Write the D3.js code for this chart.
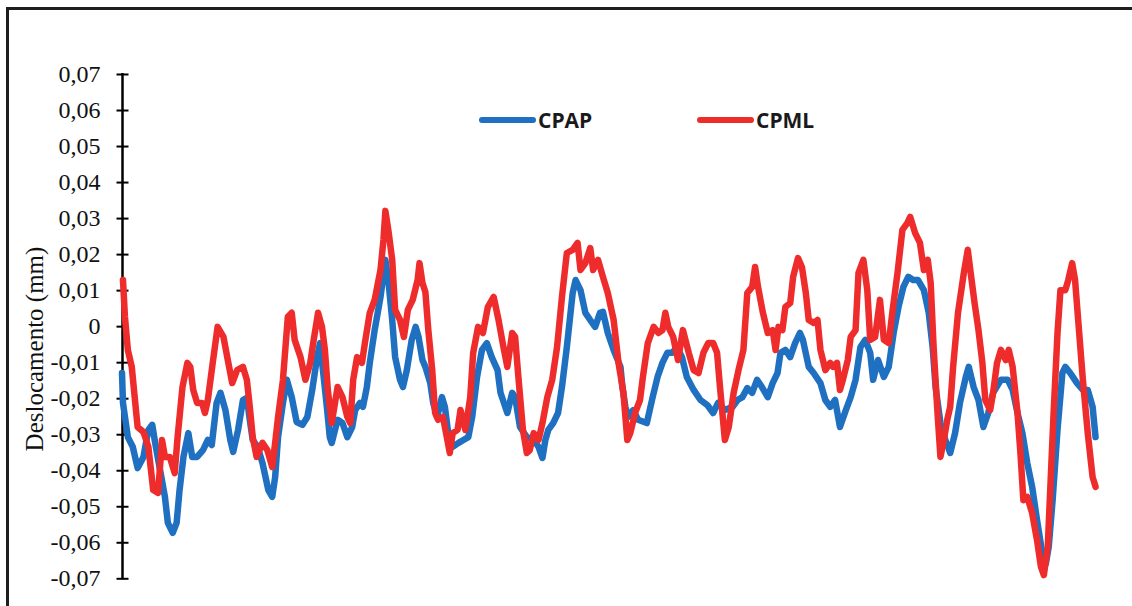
<!DOCTYPE html>
<html>
<head>
<meta charset="utf-8">
<script src="https://cdn.jsdelivr.net/npm/d3@7"></script>
<style>
  html, body { margin: 0; padding: 0; background: #fff; }
  svg { display: block; }
</style>
</head>
<body>
<svg id="chart" width="1132" height="606"></svg>
<script>
// Centre of pressure displacement over the trial (% of recording)
const seriesNames = ["CPAP", "CPML"];
const seriesColors = ["#1f70c1", "#ee2c2c"];
const yTicks = [-0.07, -0.06, -0.05, -0.04, -0.03, -0.02, -0.01, 0, 0.01, 0.02, 0.03, 0.04, 0.05, 0.06, 0.07];
const yTitle = "Deslocamento (mm)";

// CPAP (antero-posterior)
const cpapT = [0.0,0.1,0.6,1.1,1.6,2.2,2.7,3.1,3.4,3.9,4.4,4.7,5.2,5.6,5.9,6.3,6.8,7.2,7.7,8.3,8.8,9.2,9.7,10.1,10.6,11.1,11.4,11.9,12.4,12.8,13.1,13.4,13.9,14.4,15.0,15.4,15.7,16.0,16.5,16.9,17.4,17.9,18.5,19.0,19.5,20.0,20.3,20.6,21.0,21.3,21.5,22.1,22.6,23.1,23.6,23.9,24.4,24.7,25.1,25.4,25.9,26.5,27.0,27.3,27.7,28.0,28.5,28.8,29.2,29.7,30.1,30.4,30.8,31.1,31.6,31.9,32.3,32.8,33.1,33.4,33.9,34.5,35.0,35.5,35.9,36.4,36.9,37.4,37.9,38.5,38.8,39.5,40.0,40.3,40.8,41.5,42.2,42.7,43.1,43.4,43.7,44.2,44.7,45.1,45.6,46.2,46.5,47.0,47.5,48.0,48.5,49.0,49.3,49.8,50.4,51.1,51.3,51.6,51.9,52.4,52.9,53.8,54.4,54.9,55.4,55.9,56.4,56.9,57.4,57.9,58.6,59.3,60.0,60.6,61.1,61.8,62.6,63.1,63.6,64.1,64.6,65.1,65.6,66.2,66.7,67.2,67.5,68.0,68.5,69.0,69.5,69.8,70.4,70.9,71.6,72.1,72.6,73.1,73.6,74.2,74.7,75.2,75.7,76.2,76.7,77.0,77.5,78.1,78.6,79.1,79.6,80.1,80.6,81.1,81.6,82.2,82.7,83.1,83.4,83.9,84.4,84.9,85.4,85.9,86.5,86.8,87.3,87.8,88.3,88.8,89.3,90.1,90.8,91.3,91.8,92.3,92.8,93.3,93.8,94.4,94.7,95.0,95.4,95.9,96.4,96.7,97.2,97.9,98.5,99.0,99.5,99.8];
const cpapV = [-0.0130,-0.0213,-0.0308,-0.0335,-0.0394,-0.0363,-0.0288,-0.0274,-0.0324,-0.0399,-0.0474,-0.0546,-0.0574,-0.0546,-0.0455,-0.0363,-0.0297,-0.0363,-0.0363,-0.0344,-0.0316,-0.0330,-0.0213,-0.0185,-0.0233,-0.0316,-0.0349,-0.0288,-0.0205,-0.0199,-0.0260,-0.0316,-0.0335,-0.0380,-0.0455,-0.0474,-0.0419,-0.0308,-0.0213,-0.0149,-0.0197,-0.0266,-0.0274,-0.0252,-0.0177,-0.0086,-0.0047,-0.0122,-0.0224,-0.0308,-0.0324,-0.0260,-0.0269,-0.0308,-0.0280,-0.0233,-0.0213,-0.0224,-0.0169,-0.0102,-0.0011,0.0081,0.0184,0.0128,0.0017,-0.0086,-0.0149,-0.0169,-0.0122,-0.0038,-0.0002,-0.0030,-0.0094,-0.0113,-0.0158,-0.0213,-0.0252,-0.0197,-0.0224,-0.0288,-0.0335,-0.0324,-0.0316,-0.0308,-0.0252,-0.0141,-0.0066,-0.0047,-0.0086,-0.0122,-0.0185,-0.0241,-0.0185,-0.0197,-0.0280,-0.0308,-0.0316,-0.0335,-0.0366,-0.0316,-0.0288,-0.0269,-0.0241,-0.0169,-0.0058,0.0092,0.0128,0.0100,0.0037,0.0017,-0.0002,0.0037,0.0040,-0.0019,-0.0066,-0.0113,-0.0169,-0.0224,-0.0252,-0.0233,-0.0260,-0.0269,-0.0197,-0.0141,-0.0102,-0.0074,-0.0074,-0.0058,-0.0086,-0.0141,-0.0177,-0.0205,-0.0219,-0.0241,-0.0213,-0.0233,-0.0224,-0.0205,-0.0197,-0.0172,-0.0185,-0.0149,-0.0169,-0.0197,-0.0158,-0.0130,-0.0074,-0.0066,-0.0086,-0.0047,-0.0019,-0.0038,-0.0113,-0.0130,-0.0158,-0.0205,-0.0224,-0.0205,-0.0280,-0.0233,-0.0197,-0.0149,-0.0058,-0.0038,-0.0074,-0.0149,-0.0094,-0.0141,-0.0113,-0.0019,0.0053,0.0109,0.0137,0.0128,0.0128,0.0100,0.0037,-0.0058,-0.0169,-0.0269,-0.0316,-0.0352,-0.0297,-0.0213,-0.0141,-0.0113,-0.0169,-0.0205,-0.0280,-0.0241,-0.0185,-0.0149,-0.0149,-0.0177,-0.0241,-0.0297,-0.0380,-0.0446,-0.0538,-0.0641,-0.0660,-0.0613,-0.0483,-0.0288,-0.0130,-0.0113,-0.0130,-0.0158,-0.0177,-0.0177,-0.0224,-0.0308];

// CPML (medio-lateral)
const cpmlT = [0.1,0.3,0.6,1.0,1.3,1.6,2.2,2.7,3.2,3.7,4.1,4.4,4.9,5.4,5.7,6.2,6.7,7.0,7.3,7.7,8.2,8.5,8.8,9.3,9.8,10.4,10.9,11.3,11.8,12.4,12.8,13.1,13.4,13.8,14.4,14.9,15.4,15.7,16.0,16.5,17.0,17.4,17.7,18.3,18.8,19.3,19.6,20.1,20.5,20.8,21.1,21.5,22.1,22.6,23.1,23.4,23.7,24.1,24.6,24.9,25.4,25.9,26.5,26.8,27.0,27.3,27.7,28.0,28.5,28.9,29.3,29.8,30.3,30.5,30.8,31.1,31.4,31.8,32.1,32.4,32.9,33.3,33.6,33.9,34.4,34.7,35.2,35.7,36.0,36.5,37.0,37.5,38.1,38.6,39.1,39.5,40.0,40.3,40.6,41.1,41.5,41.8,42.2,42.7,43.1,43.6,44.1,44.6,45.1,45.6,46.2,46.7,47.0,47.5,48.0,48.3,48.8,49.3,49.8,50.4,50.9,51.4,51.8,52.1,52.6,53.1,53.4,53.9,54.5,55.0,55.4,55.7,56.0,56.5,57.0,57.5,58.1,58.6,59.1,59.6,60.1,60.6,61.0,61.3,61.8,62.2,62.7,63.2,63.7,64.1,64.6,64.9,65.2,65.7,66.2,66.7,67.0,67.3,67.7,68.0,68.5,68.8,69.3,69.7,70.1,70.4,70.9,71.3,71.6,72.1,72.6,72.9,73.3,73.6,73.9,74.4,74.7,75.2,75.5,76.0,76.4,76.7,77.2,77.7,78.1,78.6,79.0,79.5,80.0,80.5,80.8,81.3,81.8,82.2,82.6,82.9,83.2,83.6,83.9,84.2,84.6,84.9,85.2,85.7,86.3,86.7,87.0,87.4,87.8,88.2,88.5,89.0,89.3,89.7,90.1,90.6,90.9,91.3,91.8,92.1,92.4,92.8,93.3,93.8,94.2,94.5,94.9,95.2,95.5,95.9,96.2,96.7,97.0,97.4,97.7,98.1,98.5,99.0,99.5,99.8];
const cpmlV = [0.0128,0.0026,-0.0066,-0.0113,-0.0197,-0.0280,-0.0294,-0.0335,-0.0455,-0.0463,-0.0316,-0.0363,-0.0363,-0.0408,-0.0308,-0.0169,-0.0102,-0.0113,-0.0177,-0.0213,-0.0213,-0.0241,-0.0205,-0.0102,-0.0002,-0.0030,-0.0102,-0.0158,-0.0122,-0.0113,-0.0149,-0.0224,-0.0308,-0.0363,-0.0324,-0.0344,-0.0391,-0.0324,-0.0252,-0.0149,0.0026,0.0037,-0.0038,-0.0086,-0.0149,-0.0102,-0.0047,0.0037,-0.0002,-0.0066,-0.0177,-0.0269,-0.0169,-0.0197,-0.0252,-0.0269,-0.0149,-0.0086,-0.0102,-0.0047,0.0037,0.0073,0.0156,0.0239,0.0320,0.0267,0.0184,0.0045,0.0017,-0.0030,0.0045,0.0073,0.0128,0.0175,0.0120,0.0095,-0.0011,-0.0122,-0.0241,-0.0260,-0.0252,-0.0308,-0.0352,-0.0297,-0.0288,-0.0233,-0.0288,-0.0197,-0.0074,-0.0002,-0.0019,0.0053,0.0081,0.0017,-0.0058,-0.0113,-0.0019,-0.0030,-0.0130,-0.0288,-0.0352,-0.0344,-0.0297,-0.0316,-0.0269,-0.0197,-0.0149,-0.0058,0.0081,0.0203,0.0212,0.0231,0.0156,0.0175,0.0217,0.0156,0.0184,0.0137,0.0092,0.0017,-0.0102,-0.0185,-0.0316,-0.0297,-0.0241,-0.0205,-0.0141,-0.0047,-0.0002,-0.0019,-0.0011,0.0037,-0.0002,-0.0030,-0.0094,-0.0011,-0.0074,-0.0122,-0.0130,-0.0074,-0.0047,-0.0047,-0.0074,-0.0169,-0.0316,-0.0280,-0.0185,-0.0122,-0.0066,0.0092,0.0109,0.0164,0.0109,0.0037,-0.0019,-0.0011,-0.0066,-0.0002,-0.0011,0.0053,0.0064,0.0137,0.0189,0.0164,0.0092,0.0017,0.0009,0.0017,-0.0066,-0.0122,-0.0102,-0.0113,-0.0102,-0.0177,-0.0149,-0.0094,-0.0030,-0.0011,0.0148,0.0184,0.0100,-0.0038,-0.0030,0.0073,-0.0038,-0.0047,0.0045,0.0148,0.0267,0.0286,0.0303,0.0259,0.0231,0.0156,0.0184,0.0120,-0.0058,-0.0241,-0.0363,-0.0324,-0.0260,-0.0224,-0.0113,0.0037,0.0148,0.0212,0.0148,0.0064,-0.0011,-0.0102,-0.0205,-0.0233,-0.0185,-0.0102,-0.0066,-0.0094,-0.0066,-0.0113,-0.0241,-0.0352,-0.0483,-0.0474,-0.0519,-0.0594,-0.0668,-0.0691,-0.0613,-0.0427,-0.0241,-0.0019,0.0100,0.0100,0.0128,0.0175,0.0128,-0.0011,-0.0149,-0.0297,-0.0419,-0.0446];

const cpap = cpapT.map((t, i) => ({ t, v: cpapV[i] }));
const cpml = cpmlT.map((t, i) => ({ t, v: cpmlV[i] }));

const svg = d3.select("#chart");

// figure frame (top and left edges)
svg.append("line").attr("x1", 6).attr("x2", 1132).attr("y1", 8.5).attr("y2", 8.5)
  .attr("stroke", "#1e1e1e").attr("stroke-width", 3);
svg.append("line").attr("x1", 7.5).attr("x2", 7.5).attr("y1", 7).attr("y2", 606)
  .attr("stroke", "#1e1e1e").attr("stroke-width", 3);

const x = d3.scaleLinear().domain([0, 100]).range([122, 1097.5]);
const y = d3.scaleLinear().domain([-0.07, 0.07]).range([578.3, 74]);

const fmt = d => {
  const r = Math.round(d * 100) / 100;
  return r === 0 ? "0" : r.toFixed(2).replace(".", ",");
};

// y axis with ticks crossing the axis line
const axis = svg.append("g").attr("transform", "translate(122.5,0)")
  .call(d3.axisLeft(y).tickValues(yTicks).tickFormat(fmt).tickSizeInner(6).tickSizeOuter(0).tickPadding(16));
axis.select(".domain").attr("stroke", "#000").attr("stroke-width", 2.5)
  .attr("d", `M0,${y(0.07) - 1}V${y(-0.07) + 1}`);
axis.selectAll(".tick line").attr("x1", 6).attr("x2", -6).attr("stroke", "#000").attr("stroke-width", 2);
axis.selectAll(".tick text")
  .attr("font-family", "'Liberation Serif', 'Times New Roman', serif")
  .attr("font-size", 24).attr("fill", "#111");

// axis title
svg.append("text")
  .attr("transform", `translate(43,${349}) rotate(-90)`)
  .attr("text-anchor", "middle")
  .attr("font-family", "'Liberation Serif', 'Times New Roman', serif")
  .attr("font-size", 25).attr("fill", "#111")
  .text(yTitle);

const line = d3.line().x(d => x(d.t)).y(d => y(d.v)).curve(d3.curveLinear);

[cpap, cpml].forEach((data, i) => {
  svg.append("path")
    .datum(data)
    .attr("d", line)
    .attr("fill", "none")
    .attr("stroke", seriesColors[i])
    .attr("stroke-width", 6.5)
    .attr("stroke-linejoin", "round")
    .attr("stroke-linecap", "round");
});

// legend
const legendX = [482, 700];
seriesNames.forEach((name, i) => {
  const g = svg.append("g").attr("transform", `translate(${legendX[i]},120)`);
  g.append("line").attr("x1", 0).attr("x2", 51).attr("y1", 0).attr("y2", 0)
    .attr("stroke", seriesColors[i]).attr("stroke-width", 6).attr("stroke-linecap", "round");
  g.append("text").attr("x", 56).attr("y", 7.5)
    .attr("font-family", "'Open Sans', 'Liberation Sans', sans-serif")
    .attr("font-weight", "bold").attr("font-size", 21).attr("fill", "#1a1a1a")
    .text(name);
});
</script>
</body>
</html>
